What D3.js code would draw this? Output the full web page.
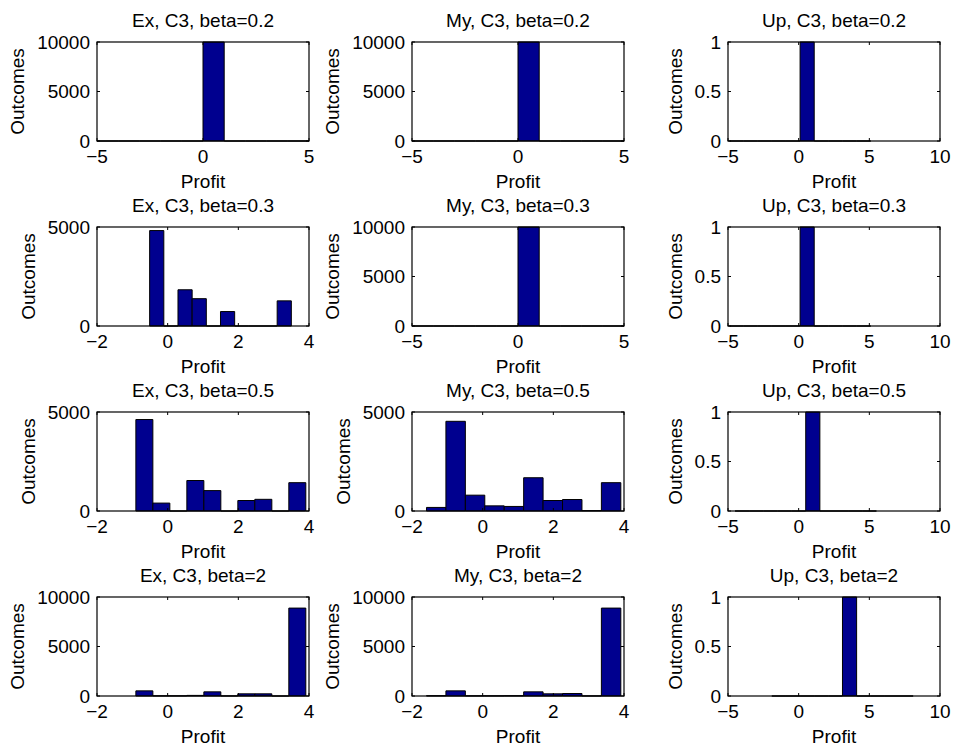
<!DOCTYPE html>
<html>
<head>
<meta charset="utf-8">
<script src="https://cdn.jsdelivr.net/npm/d3@7"></script>
<style>
  html, body { margin: 0; padding: 0; background: #fff; }
  text { font-family: "Liberation Sans", Arial, Helvetica, sans-serif; fill: #000; }
</style>
</head>
<body>
<svg id="chart" width="955" height="749"></svg>
<script>
// ---------------- data ----------------
const methods = ["Ex", "My", "Up"];
const betas = ["0.2", "0.3", "0.5", "2"];

// histogram data ranges [min, max] (10 equal bins between them), per beta
const exRange = [[-5, 5], [-0.51, 3.50], [-0.90, 3.91], [-0.90, 3.91]];
const myRange = [[-5, 5], [-5, 5], [-1.59, 3.91], [-1.59, 3.91]];
const upRange = [[-4.9, 5.1], [-4.9, 5.1], [-4.5, 5.5], [-1.9, 8.1]];

// bin counts, per beta
const exCounts = [
  [0, 0, 0, 0, 0, 10000, 0, 0, 0, 0],
  [4820, 0, 1830, 1380, 0, 730, 0, 0, 0, 1270],
  [4620, 400, 0, 1540, 1030, 0, 530, 590, 0, 1430],
  [520, 20, 20, 60, 420, 10, 220, 220, 0, 8880]
];
const myCounts = [
  [0, 0, 0, 0, 0, 10000, 0, 0, 0, 0],
  [0, 0, 0, 0, 0, 10000, 0, 0, 0, 0],
  [180, 4530, 800, 260, 230, 1680, 530, 580, 20, 1430],
  [30, 520, 20, 20, 30, 420, 220, 250, 10, 8880]
];
const upCounts = [
  [0, 0, 0, 0, 0, 1, 0, 0, 0, 0],
  [0, 0, 0, 0, 0, 1, 0, 0, 0, 0],
  [0, 0, 0, 0, 0, 1, 0, 0, 0, 0],
  [0, 0, 0, 0, 0, 1, 0, 0, 0, 0]
];

// axis limits and tick labels
const exXTicks = [[-5, 0, 5], [-2, 0, 2, 4], [-2, 0, 2, 4], [-2, 0, 2, 4]];
const myXTicks = [[-5, 0, 5], [-5, 0, 5], [-2, 0, 2, 4], [-2, 0, 2, 4]];
const upXTicks = [[-5, 0, 5, 10], [-5, 0, 5, 10], [-5, 0, 5, 10], [-5, 0, 5, 10]];
const exYTicks = [[0, 5000, 10000], [0, 5000], [0, 5000], [0, 5000, 10000]];
const myYTicks = [[0, 5000, 10000], [0, 5000, 10000], [0, 5000], [0, 5000, 10000]];
const upYTicks = [[0, 0.5, 1], [0, 0.5, 1], [0, 0.5, 1], [0, 0.5, 1]];

const xLabel = "Profit";
const yLabel = "Outcomes";

// ---------------- layout ----------------
const colLeft = [97, 412, 728];
const plotW = 212;
const rowTop = [42, 227, 412, 597];
const plotH = 99;
const FS = 19;
const barFill = "#00008f";

const svg = d3.select("#chart");

const ranges = [exRange, myRange, upRange];
const counts = [exCounts, myCounts, upCounts];
const xTicksAll = [exXTicks, myXTicks, upXTicks];
const yTicksAll = [exYTicks, myYTicks, upYTicks];

const fmt = v => (v < 0 ? "\u2212" + Math.abs(v) : String(v));

betas.forEach((beta, r) => {
  methods.forEach((m, c) => {
    const left = colLeft[c], top = rowTop[r];
    const xt = xTicksAll[c][r], yt = yTicksAll[c][r];
    const x = d3.scaleLinear().domain([xt[0], xt[xt.length - 1]]).range([left, left + plotW]);
    const y = d3.scaleLinear().domain([yt[0], yt[yt.length - 1]]).range([top + plotH, top]);
    const g = svg.append("g");

    // bars
    const [lo, hi] = ranges[c][r];
    const cnt = counts[c][r];
    const bw = (hi - lo) / cnt.length;
    const bins = cnt.map((v, i) => ({ x0: lo + i * bw, x1: lo + (i + 1) * bw, v }));
    g.selectAll("path.bar").data(bins).enter().append("path")
      .attr("class", "bar")
      .attr("d", d => {
        const x0 = x(d.x0), x1 = x(d.x1), y0 = y(0), y1 = y(d.v);
        return `M${x0},${y0}V${y1}H${x1}V${y0}Z`;
      })
      .attr("fill", barFill)
      .attr("stroke", "#000")
      .attr("stroke-width", 1);

    // box
    g.append("rect")
      .attr("x", left).attr("y", top)
      .attr("width", plotW).attr("height", plotH)
      .attr("fill", "none").attr("stroke", "#000").attr("stroke-width", 1.2);

    // ticks (inward, mirrored)
    const tl = 3;
    xt.forEach(v => {
      g.append("line").attr("x1", x(v)).attr("x2", x(v)).attr("y1", top + plotH).attr("y2", top + plotH - tl).attr("stroke", "#000");
      g.append("line").attr("x1", x(v)).attr("x2", x(v)).attr("y1", top).attr("y2", top + tl).attr("stroke", "#000");
      g.append("text").attr("x", x(v)).attr("y", top + plotH + 22)
        .attr("text-anchor", "middle").attr("font-size", FS).text(fmt(v));
    });
    let maxW = 0;
    yt.forEach(v => {
      g.append("line").attr("x1", left).attr("x2", left + tl).attr("y1", y(v)).attr("y2", y(v)).attr("stroke", "#000");
      g.append("line").attr("x1", left + plotW).attr("x2", left + plotW - tl).attr("y1", y(v)).attr("y2", y(v)).attr("stroke", "#000");
      const t = g.append("text").attr("x", left - 7).attr("y", y(v)).attr("dy", "0.36em")
        .attr("text-anchor", "end").attr("font-size", FS).text(fmt(v));
      maxW = Math.max(maxW, t.node().getComputedTextLength());
    });

    // title
    g.append("text").attr("x", left + plotW / 2).attr("y", top - 15)
      .attr("text-anchor", "middle").attr("font-size", FS)
      .text(`${m}, C3, beta=${beta}`);
    // x label
    g.append("text").attr("x", left + plotW / 2).attr("y", top + plotH + 47)
      .attr("text-anchor", "middle").attr("font-size", FS).text(xLabel);
    // y label
    const lx = left - 7 - maxW - 13;
    const ly = top + plotH / 2;
    g.append("text").attr("transform", `translate(${lx},${ly}) rotate(-90)`)
      .attr("text-anchor", "middle").attr("font-size", FS).text(yLabel);
  });
});
</script>
</body>
</html>
